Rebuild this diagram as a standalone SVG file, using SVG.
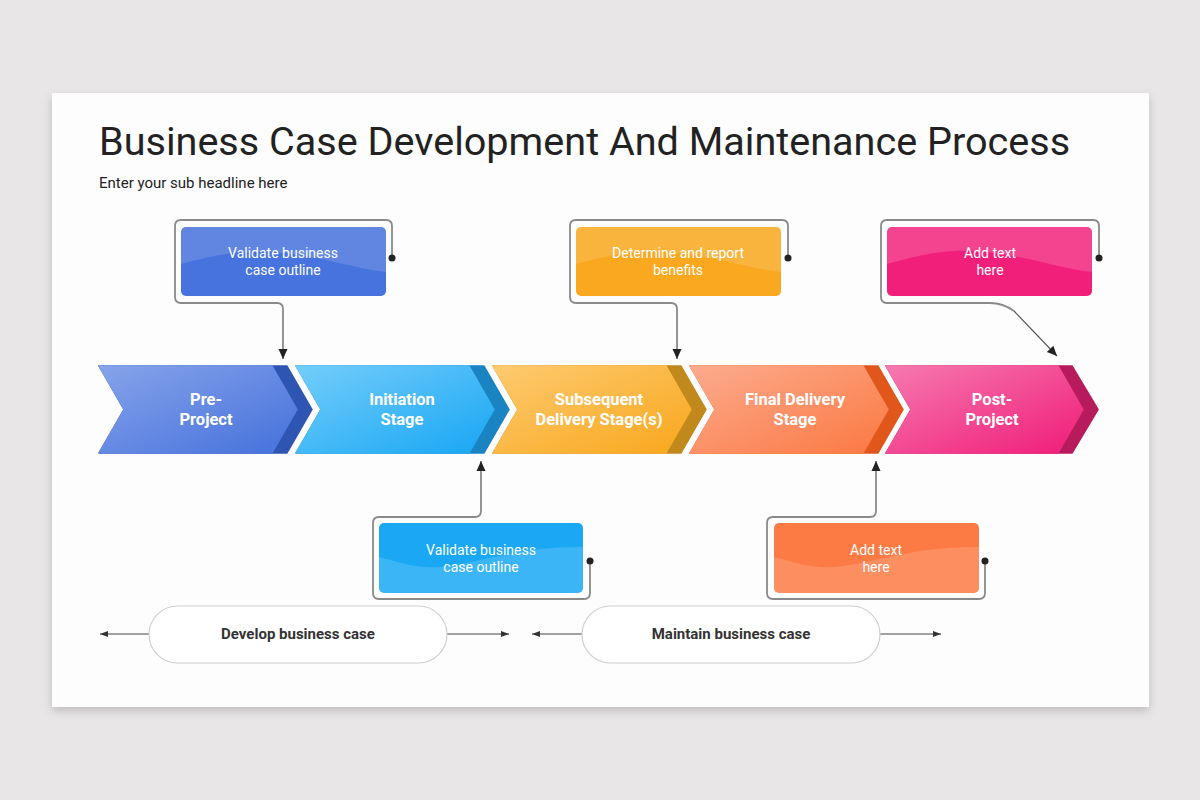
<svg xmlns="http://www.w3.org/2000/svg" width="1200" height="800" viewBox="0 0 1200 800">
<defs>
<style>
.title{font-family:Roboto,"Liberation Sans",sans-serif;font-size:39.6px;fill:#222}
.sub{font-family:Roboto,"Liberation Sans",sans-serif;font-size:15px;fill:#222}
.chev{font-family:Roboto,"Liberation Sans",sans-serif;font-size:16.5px;font-weight:bold;fill:#fff;text-anchor:middle}
.box{font-family:Roboto,"Liberation Sans",sans-serif;font-size:14px;font-weight:400;fill:#fff;text-anchor:middle}
.pill{font-family:Roboto,"Liberation Sans",sans-serif;font-size:15px;font-weight:bold;fill:#333;text-anchor:middle}
.conn{fill:none;stroke:#8a8a8a;stroke-width:1.8}
.pillshape{fill:#fff;stroke:#cfcfcf;stroke-width:1.2}
.hline{stroke:#444;stroke-width:1;fill:none}
</style>
<filter id="shadow" x="-5%" y="-5%" width="110%" height="115%">
<feDropShadow dx="0" dy="4" stdDeviation="5" flood-color="#000" flood-opacity="0.18"/>
</filter>
<marker id="arr" markerUnits="userSpaceOnUse" markerWidth="12" markerHeight="12" viewBox="0 0 12 12" refX="11" refY="6" orient="auto">
<path d="M1,1.5 L11,6 L1,10.5 Z" fill="#222"/>
</marker>
<marker id="arrs" markerUnits="userSpaceOnUse" markerWidth="10" markerHeight="10" viewBox="0 0 10 10" refX="9" refY="5" orient="auto">
<path d="M1,2 L9,5 L1,8 Z" fill="#333"/>
</marker>
<linearGradient id="g1" x1="0" y1="0" x2="1" y2="1"><stop offset="0" stop-color="#86a3ea"/><stop offset="1" stop-color="#4571dc"/></linearGradient>
<linearGradient id="g2" x1="0" y1="0" x2="1" y2="1"><stop offset="0" stop-color="#73cdfa"/><stop offset="1" stop-color="#18a6f4"/></linearGradient>
<linearGradient id="g3" x1="0" y1="0" x2="1" y2="1"><stop offset="0" stop-color="#fdca70"/><stop offset="1" stop-color="#f9a71c"/></linearGradient>
<linearGradient id="g4" x1="0" y1="0" x2="1" y2="1"><stop offset="0" stop-color="#fcab8d"/><stop offset="1" stop-color="#fb7842"/></linearGradient>
<linearGradient id="g5" x1="0" y1="0" x2="1" y2="1"><stop offset="0" stop-color="#f679b0"/><stop offset="1" stop-color="#f01c78"/></linearGradient>
<clipPath id="c1"><rect x="181" y="227" width="205" height="69" rx="5"/></clipPath>
<clipPath id="c3"><rect x="576" y="227" width="205" height="69" rx="5"/></clipPath>
<clipPath id="c5"><rect x="887" y="227" width="205" height="69" rx="5"/></clipPath>
<clipPath id="c2"><rect x="379" y="523" width="204" height="70" rx="5"/></clipPath>
<clipPath id="c4"><rect x="774" y="523" width="205" height="70" rx="5"/></clipPath>
</defs>

<rect width="1200" height="800" fill="#e8e6e7"/>
<rect x="52" y="93" width="1097" height="614" fill="#fdfdfd" filter="url(#shadow)"/>

<text class="title" x="99" y="155">Business Case Development And Maintenance Process</text>
<text class="sub" x="99" y="188">Enter your sub headline here</text>

<!-- connectors -->
<g id="connectors">
<path class="conn" d="M392,258 V226 Q392,220 386,220 H181 Q175,220 175,226 V297 Q175,303 181,303 H277 Q283,303 283,309 V359" marker-end="url(#arr)"/>
<path class="conn" d="M788,258 V226 Q788,220 782,220 H576 Q570,220 570,226 V297 Q570,303 576,303 H671 Q677,303 677,309 V359" marker-end="url(#arr)"/>
<path class="conn" d="M1099,258 V226 Q1099,220 1093,220 H887 Q881,220 881,226 V297 Q881,303 887,303 H990 Q1003,303 1014,311" />
<path d="M1014,311 L1057,356" fill="none" stroke="#555" stroke-width="1.1" marker-end="url(#arr)"/>
<path class="conn" d="M590,561 V593 Q590,599 584,599 H379 Q373,599 373,593 V523 Q373,517 379,517 H475 Q481,517 481,511 V461" marker-end="url(#arr)"/>
<path class="conn" d="M985,561 V593 Q985,599 979,599 H773 Q767,599 767,593 V523 Q767,517 773,517 H870 Q876,517 876,511 V461" marker-end="url(#arr)"/>
<circle cx="392" cy="258" r="3.5" fill="#222"/>
<circle cx="788" cy="258" r="3.5" fill="#222"/>
<circle cx="1099" cy="258" r="3.5" fill="#222"/>
<circle cx="590" cy="561" r="3.5" fill="#222"/>
<circle cx="985" cy="561" r="3.5" fill="#222"/>
<path class="hline" d="M149,634 H100" marker-end="url(#arrs)"/>
<path class="hline" d="M447,634 H509" marker-end="url(#arrs)"/>
<path class="hline" d="M582,634 H532" marker-end="url(#arrs)"/>
<path class="hline" d="M880,634 H941" marker-end="url(#arrs)"/>
</g>

<!-- chevrons -->
<g id="stage1">
<path d="M99,366 H287 L312,409.5 L287,453 H99 L124,409.5 Z" fill="#2f55b2" stroke="#2f55b2" stroke-width="1.5" stroke-linejoin="round"/>
<path d="M99,366 H272 L297,409.5 L272,453 H99 L124,409.5 Z" fill="url(#g1)" stroke="url(#g1)" stroke-width="1.5" stroke-linejoin="round"/>
<text class="chev" x="206" y="405">Pre-</text>
<text class="chev" x="206" y="425">Project</text>
</g>
<g id="stage2">
<path d="M296,366 H484 L509,409.5 L484,453 H296 L321,409.5 Z" fill="#1a83c2" stroke="#1a83c2" stroke-width="1.5" stroke-linejoin="round"/>
<path d="M296,366 H469 L494,409.5 L469,453 H296 L321,409.5 Z" fill="url(#g2)" stroke="url(#g2)" stroke-width="1.5" stroke-linejoin="round"/>
<text class="chev" x="402" y="405">Initiation</text>
<text class="chev" x="402" y="425">Stage</text>
</g>
<g id="stage3">
<path d="M493,366 H681 L706,409.5 L681,453 H493 L518,409.5 Z" fill="#c1891c" stroke="#c1891c" stroke-width="1.5" stroke-linejoin="round"/>
<path d="M493,366 H666 L691,409.5 L666,453 H493 L518,409.5 Z" fill="url(#g3)" stroke="url(#g3)" stroke-width="1.5" stroke-linejoin="round"/>
<text class="chev" x="599" y="405">Subsequent</text>
<text class="chev" x="599" y="425">Delivery Stage(s)</text>
</g>
<g id="stage4">
<path d="M690,366 H878 L903,409.5 L878,453 H690 L715,409.5 Z" fill="#e0561b" stroke="#e0561b" stroke-width="1.5" stroke-linejoin="round"/>
<path d="M690,366 H863 L888,409.5 L863,453 H690 L715,409.5 Z" fill="url(#g4)" stroke="url(#g4)" stroke-width="1.5" stroke-linejoin="round"/>
<text class="chev" x="795" y="405">Final Delivery</text>
<text class="chev" x="795" y="425">Stage</text>
</g>
<g id="stage5">
<path d="M886,366 H1072 L1098,409.5 L1072,453 H886 L911,409.5 Z" fill="#b81b5c" stroke="#b81b5c" stroke-width="1.5" stroke-linejoin="round"/>
<path d="M886,366 H1058 L1083,409.5 L1058,453 H886 L911,409.5 Z" fill="url(#g5)" stroke="url(#g5)" stroke-width="1.5" stroke-linejoin="round"/>
<text class="chev" x="992" y="405">Post-</text>
<text class="chev" x="992" y="425">Project</text>
</g>

<!-- callout boxes -->
<g id="note1">
<rect x="181" y="227" width="205" height="69" rx="5" fill="#4673de"/>
<path clip-path="url(#c1)" d="M181,227 H386 V272 C350,268 320,255 270,252 C230,250 205,258 181,264 Z" fill="#fff" fill-opacity="0.14"/>
<text class="box" x="283" y="258">Validate business</text>
<text class="box" x="283" y="275">case outline</text>
</g>
<g id="note3">
<rect x="576" y="227" width="205" height="69" rx="5" fill="#f9a81f"/>
<path clip-path="url(#c3)" d="M576,227 H781 V272 C745,268 715,255 665,252 C625,250 600,258 576,264 Z" fill="#fff" fill-opacity="0.14"/>
<text class="box" x="678" y="258">Determine and report</text>
<text class="box" x="678" y="275">benefits</text>
</g>
<g id="note5">
<rect x="887" y="227" width="205" height="69" rx="5" fill="#f21f7a"/>
<path clip-path="url(#c5)" d="M887,227 H1092 V272 C1056,268 1026,255 976,251 C936,249 911,258 887,264 Z" fill="#fff" fill-opacity="0.16"/>
<text class="box" x="990" y="258">Add text</text>
<text class="box" x="990" y="275">here</text>
</g>
<g id="note2">
<rect x="379" y="523" width="204" height="70" rx="5" fill="#1aa8f5"/>
<path clip-path="url(#c2)" d="M379,557 C400,562 415,569 440,567 C480,563 520,546 583,547 V593 H379 Z" fill="#fff" fill-opacity="0.15"/>
<text class="box" x="481" y="555">Validate business</text>
<text class="box" x="481" y="572">case outline</text>
</g>
<g id="note4">
<rect x="774" y="523" width="205" height="70" rx="5" fill="#fc7b45"/>
<path clip-path="url(#c4)" d="M774,557 C795,562 810,569 835,567 C875,563 915,546 979,547 V593 H774 Z" fill="#fff" fill-opacity="0.15"/>
<text class="box" x="876" y="555">Add text</text>
<text class="box" x="876" y="572">here</text>
</g>

<!-- phases -->
<g id="phase1">
<rect class="pillshape" x="149" y="606" width="298" height="57" rx="28.5"/>
<text class="pill" x="298" y="639">Develop business case</text>
</g>
<g id="phase2">
<rect class="pillshape" x="582" y="606" width="298" height="57" rx="28.5"/>
<text class="pill" x="731" y="639">Maintain business case</text>
</g>
</svg>
